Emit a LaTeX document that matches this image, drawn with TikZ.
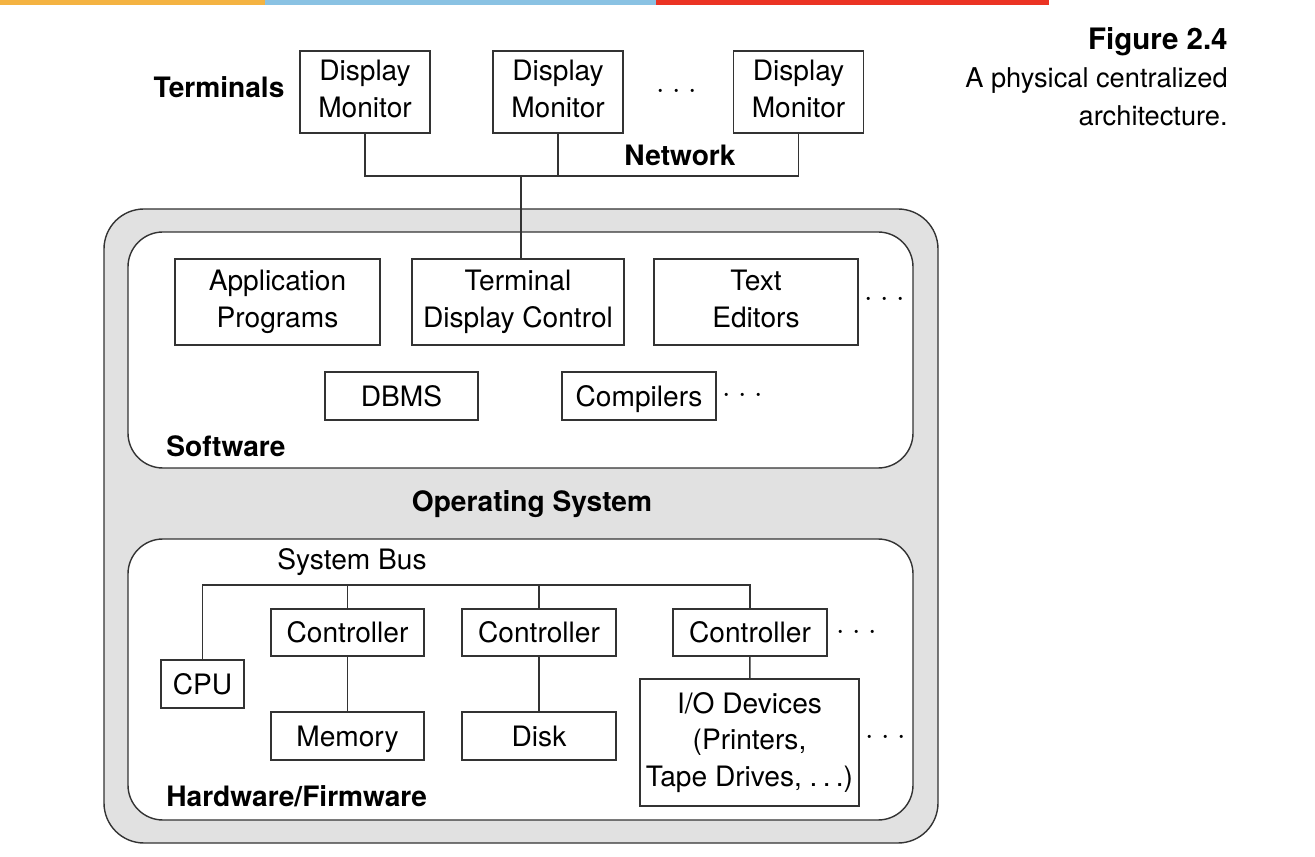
\documentclass[tikz,border=0pt]{standalone}
\usepackage{fontspec}
\setmainfont{TeX Gyre Heros}
\definecolor{barorange}{HTML}{F4B342}
\definecolor{barblue}{HTML}{8AC2E3}
\definecolor{barred}{HTML}{EB3323}
\definecolor{osgray}{HTML}{E1E1E1}
\definecolor{linegray}{HTML}{333333}
\newcommand\spdots{$\mathord{\cdot}\mkern4.5mu\mathord{\cdot}\mkern4.5mu\mathord{\cdot}$}
\newcommand\boxtop{\rule{0pt}{15pt}}
\newcommand\boxbot{\rule[-3.5pt]{0pt}{3.5pt}}
\begin{document}
\begin{tikzpicture}[x=0.02cm,y=-0.02cm,
  every node/.style={font=\fontsize{16}{21}\selectfont},
  box/.style={draw=linegray,line width=0.8pt,fill=white,align=center,inner sep=0pt,
    execute at begin node=\boxtop,execute at end node=\boxbot},
  lbl/.style={font=\fontsize{16}{21}\selectfont\bfseries,inner sep=0pt},
  wire/.style={draw=linegray,line width=0.8pt}]
  \useasboundingbox (0,0) rectangle (1315,857);

  % colour bar on top
  \fill[barorange] (0,0) rectangle (265,5);
  \fill[barblue] (265,0) rectangle (656,5);
  \fill[barred] (656,0) rectangle (1049,5);

  % caption
  \node[lbl,font=\fontsize{16.8}{21}\selectfont\bfseries,anchor=east] (fig) at (1228,42) {Figure 2.4};
  \node[anchor=north east,align=right,inner sep=0pt,font=\fontsize{15.5}{22}\selectfont] (cap) at (1228,67) {A physical centralized\\architecture.};

  % terminals
  \node[lbl] (term) at (219,87) {Terminals};
  \node[box,minimum width=2.6cm,minimum height=1.64cm] (dm1) at (365,92) {Display\\Monitor};
  \node[box,minimum width=2.6cm,minimum height=1.64cm] (dm2) at (558,92) {Display\\Monitor};
  \node (tdots) at (677,92) {\spdots};
  \node[box,minimum width=2.6cm,minimum height=1.64cm] (dm3) at (798.5,92) {Display\\Monitor};
  \node[lbl] (net) at (680,155) {Network};

  % operating system, software and hardware
  \draw[wire,fill=osgray,rounded corners=0.8cm] (104,209) rectangle (938,843);
  \draw[wire,fill=white,rounded corners=0.7cm] (128,232) rectangle (913,468);
  \draw[wire,fill=white,rounded corners=0.7cm] (128,539) rectangle (913,820);
  \node[lbl] (os) at (532,504) {Operating System};
  \node[lbl,anchor=west] (sw) at (166,446) {Software};
  \node[lbl,anchor=west] (hw) at (166,796) {Hardware/Firmware};

  % software
  \node[box,minimum width=4.1cm,minimum height=1.72cm] (app) at (277.5,302) {Application\\Programs};
  \node[box,minimum width=4.24cm,minimum height=1.72cm] (tdc) at (518,302) {Terminal\\Display Control};
  \node[box,minimum width=4.08cm,minimum height=1.72cm] (ted) at (756,302) {Text\\Editors};
  \node (sdots) at (885,300) {\spdots};
  \node[box,minimum width=3.06cm,minimum height=0.96cm] (dbms) at (401.5,396) {DBMS};
  \node[box,minimum width=3.08cm,minimum height=0.96cm] (comp) at (639,396) {Compilers};
  \node (cdots) at (743,396) {\spdots};

  % hardware
  \node (bus) at (352,562) {System Bus};
  \node[box,minimum width=1.66cm,minimum height=0.96cm] (cpu) at (202.5,684) {CPU};
  \node[box,minimum width=3.06cm,minimum height=0.94cm] (ctl1) at (347.5,632.5) {Controller};
  \node[box,minimum width=3.08cm,minimum height=0.94cm] (ctl2) at (539,632.5) {Controller};
  \node[box,minimum width=3.08cm,minimum height=0.94cm] (ctl3) at (750,632.5) {Controller};
  \node (hdots) at (857,633) {\spdots};
  \node[box,minimum width=3.06cm,minimum height=0.96cm] (mem) at (347.5,736) {Memory};
  \node[box,minimum width=3.08cm,minimum height=0.96cm] (disk) at (539,736) {Disk};
  \node[box,minimum width=4.38cm,minimum height=2.54cm] (io) at (749.5,742.5) {I/O Devices\\(Printers,\\Tape Drives, .\kern3pt.\kern3pt.)};
  \node (iodots) at (886,738) {\spdots};

  % network lines
  \coordinate (nw) at (521,176);
  \draw[wire] (dm1.south) |- (dm3.south |- nw) -- (dm3.south);
  \draw[wire] (dm2.south) -- (dm2.south |- nw);
  \draw[wire] (nw) -- (nw |- tdc.north);

  % system bus
  \coordinate (sb) at (0,585);
  \draw[wire] (cpu.north) |- (ctl3.north |- sb) -- (ctl3.north);
  \draw[wire] (ctl1.north) -- (ctl1.north |- sb);
  \draw[wire] (ctl2.north) -- (ctl2.north |- sb);
  \draw[wire] (ctl1) -- (mem);
  \draw[wire] (ctl2) -- (disk);
  \draw[wire] (ctl3) -- (io);
\end{tikzpicture}
\end{document}
